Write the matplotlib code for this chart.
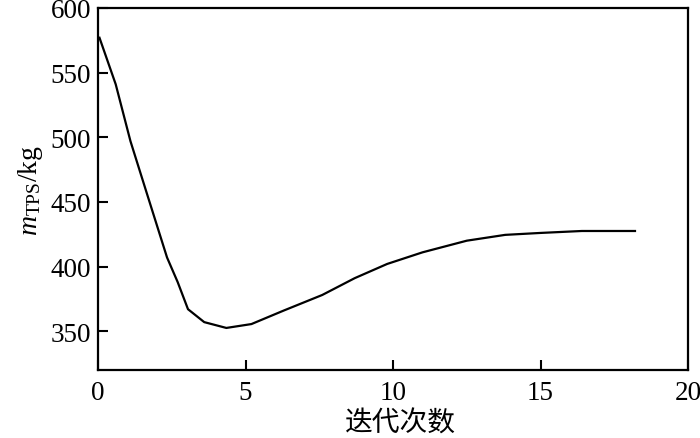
import matplotlib
matplotlib.use("Agg")
import matplotlib.pyplot as plt

iterations = [0.05, 0.6, 1.1, 1.65, 2.34, 2.7, 3.05, 3.6, 4.35, 5.2, 6.3, 7.6, 8.7, 9.8, 11.0, 12.5, 13.8, 15.0, 16.4, 18.2]
mass_kg = [577, 541, 497, 457, 407, 388, 367, 357, 352.5, 355.5, 366, 378, 391, 402, 411, 420, 424.5, 426, 427.5, 427.5]
xticks = [0, 5, 10, 15, 20]
yticks = [350, 400, 450, 500, 550, 600]

plt.rcParams['font.family'] = ['Liberation Serif', 'Noto Sans CJK SC']
plt.rcParams['mathtext.fontset'] = 'custom'
plt.rcParams['mathtext.rm'] = 'Liberation Serif'
plt.rcParams['mathtext.it'] = 'Liberation Serif:italic'

fig = plt.figure(figsize=(7, 4.39), dpi=100)
ax = fig.add_axes([0.14, 0.155, 0.843, 0.8245])
ax.plot(iterations, mass_kg, color='black', linewidth=1.6)
ax.set_xlim(0, 20)
ax.set_ylim(320, 600)
ax.set_xticks(xticks)
ax.set_yticks(yticks)
ax.tick_params(direction='in', length=7, width=1.5, labelsize=19.5, pad=5)
ax.tick_params(axis='x', pad=7)
for s in ax.spines.values():
    s.set_linewidth(1.6)
ax.set_xlabel('迭代次数', family=['Noto Sans CJK SC'], fontsize=20)
ax.xaxis.set_label_coords(0.512, -0.104)
ax.set_ylabel(r'$m_{\mathrm{TPS}}$/kg', fontsize=20, labelpad=4)
fig.savefig('out.png', dpi=100)
